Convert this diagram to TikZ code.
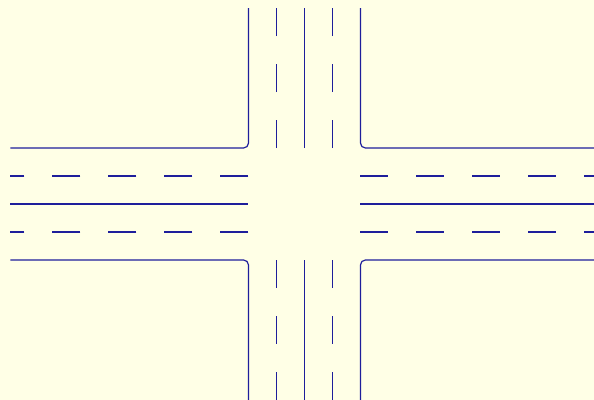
\documentclass[tikz,border=0pt]{standalone}
\usepackage{tikz}
\definecolor{roadblue}{RGB}{30,30,155}
\definecolor{paper}{RGB}{255,255,230}

\begin{document}
\begin{tikzpicture}[line width=1.2pt,
		kerb/.style={draw=roadblue, rounded corners=5pt},
		lane/.style={draw=roadblue, dash pattern=on 1cm off 1cm}]
		\fill[paper] (-10.875,-7) rectangle (10.34,7.286);
		\useasboundingbox (-10.875,-7) rectangle (10.34,7.286);
		\draw[kerb] (-10.5,2) -- (-2,2) -- (-2,7);
		\draw[kerb] (2,7) -- (2,2) -- (10.34,2);
		\draw[kerb] (-10.5,-2) -- (-2,-2) -- (-2,-7);
		\draw[kerb] (2,-7) -- (2,-2) -- (10.34,-2);
		\draw[kerb] (-10.5,0) -- (-2,0);
		\draw[kerb] (2,0) -- (10.34,0);
		\draw[kerb] (0,2) -- (0,7);
		\draw[kerb] (0,-2) -- (0,-7);
		\foreach \s in {-1,1}{
			\draw[lane] (-2,\s) -- (-10.5,\s);
			\draw[lane] (2,\s) -- (10.34,\s);
			\draw[lane] (\s,2) -- (\s,7);
			\draw[lane] (\s,-2) -- (\s,-7);
		}
		\end{tikzpicture}
\end{document}
